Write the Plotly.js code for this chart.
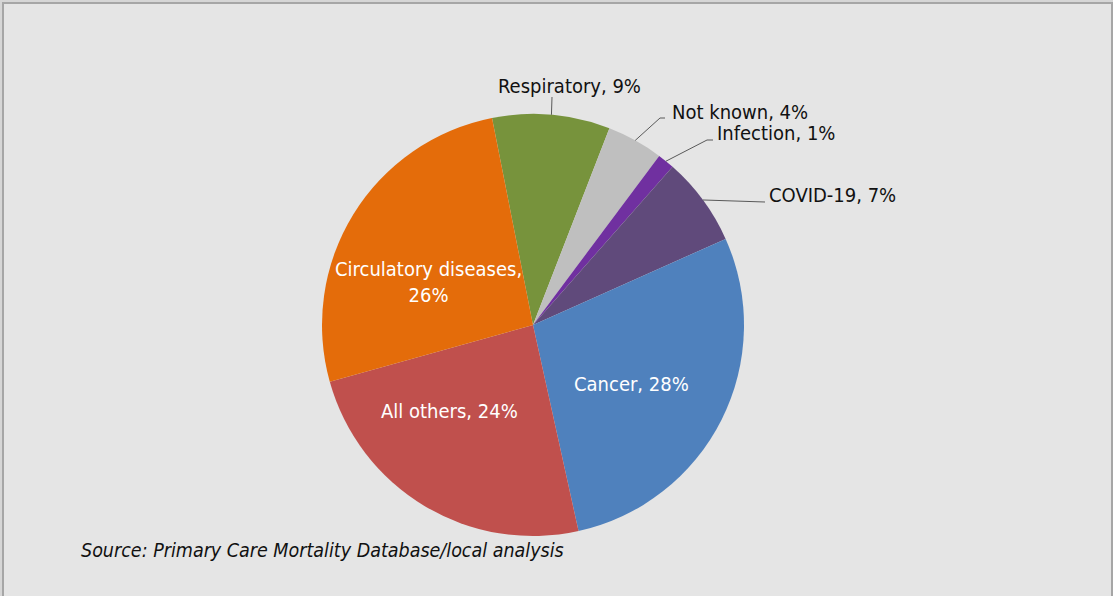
<!DOCTYPE html>
<html><head><meta charset="utf-8">
<script src="https://cdn.plot.ly/plotly-3.0.1.min.js"></script>
<style>html,body{margin:0;padding:0;background:#fff}#chart{width:1113px;height:596px}</style>
</head><body><div id="chart"></div>
<script>
// ---- data ----
const categories = ['Respiratory', 'Not known', 'Infection', 'COVID-19', 'Cancer', 'All others', 'Circulatory diseases'];
const shares = [9.0, 4.3, 1.3, 6.8, 28.2, 24.1, 26.2];
const sourceNote = 'Source: Primary Care Mortality Database/local analysis';

// ---- style ----
const colors = ['#77933c', '#bfbfbf', '#7030a0', '#604a7b', '#4f81bd', '#c0504d', '#e46c0a'];
const FONT = '"DejaVu Sans Condensed", "DejaVu Sans", "Liberation Sans", sans-serif';
const W = 1113, H = 596;
const CX = 533, CY = 325, R = 211;       // pie centre / radius in px
const ROT = -11.2;                        // start angle of first slice
// label placement (px): x, y, xanchor, separator, colour, leader elbow points
const labelPos = {
  'Respiratory':          {x: 569, y: 86,  xa: 'center', sep: ', ', col: '#111111', elbow: [[552, 97]]},
  'Not known':            {x: 670, y: 112, xa: 'left',   sep: ', ', col: '#111111', elbow: [[665, 118], [660, 118]]},
  'Infection':            {x: 715, y: 133, xa: 'left',   sep: ', ', col: '#111111', elbow: [[713, 140], [707, 140]]},
  'COVID-19':             {x: 767, y: 195, xa: 'left',   sep: ', ', col: '#111111', elbow: [[765, 202]]},
  'Cancer':               {x: 631, y: 384, xa: 'center', sep: ', ', col: '#ffffff'},
  'All others':           {x: 449, y: 411, xa: 'center', sep: ', ', col: '#ffffff'},
  'Circulatory diseases': {x: 428, y: 282, xa: 'center', sep: ',<br>', col: '#ffffff'}
};

const px = x => x / W, py = y => 1 - y / H;
const total = shares.reduce((a, b) => a + b, 0);

// mid-angle anchor of each slice on pie rim
let acc = 0;
const anchors = shares.map(v => {
  const mid = ROT + (acc + v / 2) / total * 360;
  acc += v;
  const a = mid * Math.PI / 180;
  return [CX + R * Math.sin(a), CY - R * Math.cos(a)];
});

const annotations = [];
const shapes = [{
  type: 'rect', xref: 'paper', yref: 'paper', layer: 'below',
  x0: px(3), x1: px(1112), y0: -0.05, y1: py(3),
  fillcolor: '#e5e5e5', line: {color: '#a6a6a6', width: 2}
}];

categories.forEach((c, i) => {
  const o = labelPos[c];
  const pct = Math.round(shares[i] / total * 100);
  annotations.push({
    xref: 'paper', yref: 'paper', x: px(o.x), y: py(o.y), xanchor: o.xa, yanchor: 'middle',
    text: c + o.sep + pct + '%', showarrow: false, align: 'center',
    font: {family: FONT, size: 20, color: o.col}
  });
  if (o.elbow) {
    const pts = o.elbow.concat([anchors[i]]);
    const path = pts.map((p, k) => (k ? 'L' : 'M') + px(p[0]) + ',' + py(p[1])).join(' ');
    shapes.push({type: 'path', xref: 'paper', yref: 'paper', path: path, line: {color: '#595959', width: 1}});
  }
});

annotations.push({
  xref: 'paper', yref: 'paper', x: px(79), y: py(550), xanchor: 'left', yanchor: 'middle',
  text: '<i>' + sourceNote + '</i>', showarrow: false,
  font: {family: FONT, size: 19.5, color: '#111111'}
});

const trace = {
  type: 'pie', labels: categories, values: shares, sort: false,
  direction: 'clockwise', rotation: ROT,
  marker: {colors: colors, line: {width: 0}},
  textinfo: 'none',
  hoverinfo: 'none', showlegend: false,
  domain: {x: [px(CX - R), px(CX + R)], y: [py(CY + R), py(CY - R)]}
};

Plotly.newPlot('chart', [trace], {
  width: W, height: H, margin: {l: 0, r: 0, t: 0, b: 0},
  paper_bgcolor: '#d6d6d6', plot_bgcolor: '#e5e5e5',
  font: {family: FONT},
  showlegend: false, annotations: annotations, shapes: shapes
}, {displayModeBar: false, staticPlot: true});
</script>
</body></html>
